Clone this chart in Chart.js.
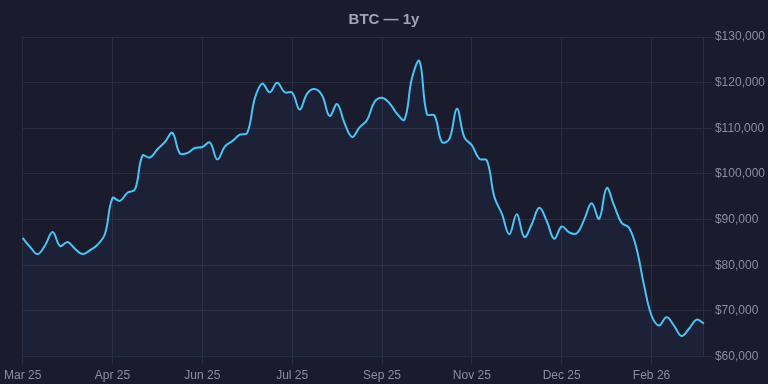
<!DOCTYPE html>
<html>
<head>
<meta charset="utf-8">
<script src="https://cdn.jsdelivr.net/npm/chart.js@4"></script>
<style>
  html, body { margin: 0; padding: 0; background: #1a1b2d; }
  #wrap { width: 768px; height: 384px; }
</style>
</head>
<body>
<div id="wrap"><canvas id="myChart"></canvas></div>
<script>
// one point every 4 days, Mar 2025 .. Mar 2026
const labels = [
  "Mar 25", "Mar 25", "Mar 25", "Mar 25", "Mar 25", "Mar 25", "Mar 25",
  "Apr 25", "Apr 25", "Apr 25", "Apr 25", "Apr 25", "Apr 25", "Apr 25",
  "May 25", "May 25", "May 25", "May 25", "May 25", "May 25", "May 25", "May 25",
  "Jun 25", "Jun 25", "Jun 25", "Jun 25", "Jun 25", "Jun 25", "Jun 25",
  "Jul 25", "Jul 25", "Jul 25", "Jul 25", "Jul 25", "Jul 25", "Jul 25", "Jul 25",
  "Aug 25", "Aug 25", "Aug 25", "Aug 25", "Aug 25", "Aug 25", "Aug 25", "Aug 25",
  "Sep 25", "Sep 25", "Sep 25", "Sep 25", "Sep 25", "Sep 25", "Sep 25",
  "Oct 25", "Oct 25", "Oct 25", "Oct 25", "Oct 25", "Oct 25", "Oct 25", "Oct 25",
  "Nov 25", "Nov 25", "Nov 25", "Nov 25", "Nov 25", "Nov 25", "Nov 25", "Nov 25",
  "Dec 25", "Dec 25", "Dec 25", "Dec 25", "Dec 25", "Dec 25", "Dec 25",
  "Jan 26", "Jan 26", "Jan 26", "Jan 26", "Jan 26", "Jan 26", "Jan 26", "Jan 26",
  "Feb 26", "Feb 26", "Feb 26", "Feb 26", "Feb 26", "Feb 26", "Feb 26",
  "Mar 26", "Mar 26"
];

const prices = [
  86000, 84000, 82450, 84400, 87300, 84200, 85100, 83600, 82450, 83300,
  84500, 86900, 94700, 94100, 95900, 96600, 104000, 103600, 105400, 107000,
  109000, 104500, 104600, 105700, 105900, 106900, 103200, 106000, 107200, 108600,
  109000, 116500, 119800, 117900, 120000, 117900, 117800, 114100, 117600, 118600,
  117200, 112700, 115300, 111100, 108100, 110200, 111800, 115800, 116700, 115500,
  113200, 111900, 121000, 124700, 113100, 112800, 107000, 107700, 114300, 108000,
  106300, 103300, 103000, 95000, 91300, 86800, 91200, 86200, 89000, 92600,
  89700, 85800, 88500, 87200, 87000, 90000, 93600, 90200, 96900, 93100,
  89300, 88200, 83600, 75600, 69000, 66800, 68600, 66800, 64500, 66100,
  68100, 67200
];

const yTicks = [60000, 70000, 80000, 90000, 100000, 110000, 120000, 130000];
const labelEvery = 12;

const gridColor = "#2a2d41";
const tickColor = "#8b8e9b";

document.addEventListener("DOMContentLoaded", function () {
  const ctx = document.getElementById("myChart");
  window.myChart = new Chart(ctx, {
    type: "line",
    data: {
      labels: labels,
      datasets: [
        {
          label: "BTC",
          data: prices,
          borderColor: "#4cc3f5",
          backgroundColor: "rgba(60, 110, 200, 0.07)",
          borderWidth: 2,
          pointRadius: 0,
          tension: 0.4,
          fill: "start",
        },
      ],
    },
    options: {
      responsive: true,
      maintainAspectRatio: false,
      animation: false,
      layout: { padding: { bottom: -3, right: 0 } },
      plugins: {
        legend: { display: false },
        tooltip: { enabled: false },
        title: {
          display: true,
          text: "BTC — 1y",
          color: "#a2a4b0",
          font: { family: "'Liberation Sans', Arial, sans-serif", size: 15, weight: "bold" },
          padding: { top: 11, bottom: 8 },
        },
      },
      scales: {
        x: {
          grid: {
            color: (c) => (c.index % labelEvery === 0 ? gridColor : "transparent"),
            tickLength: 8,
          },
          border: { color: gridColor },
          ticks: {
            autoSkip: false,
            maxRotation: 0,
            padding: 4,
            color: tickColor,
            font: { family: "'Liberation Sans', Arial, sans-serif", size: 12 },
            callback: function (val, i) {
              return i % labelEvery === 0 ? labels[i] : "";
            },
          },
        },
        y: {
          position: "right",
          min: 60000,
          max: 130000,
          afterBuildTicks: (axis) => {
            axis.ticks = yTicks.map((v) => ({ value: v }));
          },
          grid: { color: gridColor, tickLength: 8 },
          border: { color: gridColor },
          ticks: {
            color: tickColor,
            font: { family: "'Liberation Sans', Arial, sans-serif", size: 12 },
            callback: (v) => "$" + v.toLocaleString("en-US"),
          },
        },
      },
    },
  });
});
</script>
</body>
</html>
